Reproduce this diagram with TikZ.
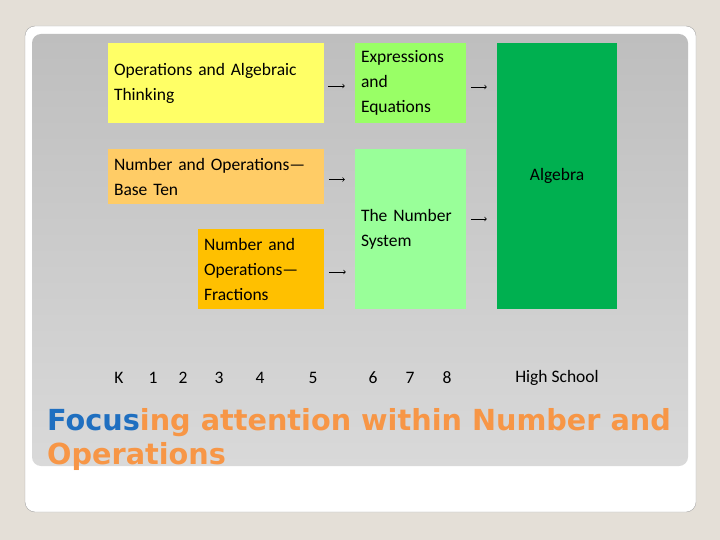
\documentclass[tikz,border=0pt]{standalone}
\usepackage{fontspec}
\setmainfont{Carlito}
\newfontfamily\titlefont[FakeStretch=0.99]{DejaVu Sans Bold}
\usepackage{xcolor}
\usetikzlibrary{arrows,positioning}

\definecolor{canvas}{HTML}{E4DFD7}
\definecolor{panelTop}{HTML}{BEBEBE}
\definecolor{panelBot}{HTML}{D9D9D9}
\definecolor{algYellow}{HTML}{FFFF66}
\definecolor{exprGreen}{HTML}{99FF66}
\definecolor{nsGreen}{HTML}{99FF99}
\definecolor{hsGreen}{HTML}{00B050}
\definecolor{tenOrange}{HTML}{FFCC66}
\definecolor{fracOrange}{HTML}{FFC000}
\definecolor{focusBlue}{HTML}{1F6FC0}
\definecolor{focusOrange}{HTML}{F79646}

\begin{document}
\begin{tikzpicture}[
        x=1pt, y=-1pt,
        % Define styles for the boxes
        box/.style={
            rectangle,
            inner xsep=6pt,
            inner ysep=0pt,
            align=left,
            font=\fontsize{17.5}{25}\selectfont
        },
        grade/.style={
            font=\fontsize{17.5}{20}\selectfont
        },
        arrow/.style={
            ->,
            >=to,
            line width=0.7pt
        }
    ]

    % Background and frame
    \fill[canvas] (0,0) rectangle (720,540);
    \useasboundingbox (0,0) rectangle (720,540);
    \draw[gray!70, fill=white, rounded corners=10pt] (25,26) rectangle (696,512);
    \shade[top color=panelTop, bottom color=panelBot, rounded corners=9pt]
        (32,34) rectangle (688,466);

    % Place the strands
    \node[box, fill=algYellow, text width=204pt, minimum height=80pt] (oat) at (216,83)
        {Operations and Algebraic\\Thinking};
    \node[box, fill=exprGreen, text width=99pt, minimum height=80pt] (ee) at (410.5,83)
        {Expressions\\and\\Equations};
    \node[box, fill=tenOrange, text width=204pt, minimum height=55pt] (nbt) at (216,176.5)
        {Number and Operations---\\Base Ten};
    \node[box, fill=nsGreen, text width=99pt, minimum height=160pt] (ns) at (410.5,229)
        {The Number\\System};
    \node[box, fill=fracOrange, text width=114pt, minimum height=80pt] (nf) at (261,269)
        {Number and\\Operations---\\Fractions};
    \node[box, fill=hsGreen, align=center, minimum width=120pt, minimum height=266pt] (alg) at (557,176)
        {Algebra};

    % Draw the arrows between strands
    \draw[arrow, shorten <=4pt, shorten >=10pt] ([yshift=-3pt]oat.east) -- ([yshift=-3pt]ee.west);
    \draw[arrow, shorten <=5pt, shorten >=10pt] ([yshift=-4pt]ee.east) -- ([yshift=-4pt]ee.east -| alg.west);
    \draw[arrow, shorten <=5pt, shorten >=10pt] ([yshift=-3pt]nbt.east) -- ([yshift=-3pt]nbt.east -| ns.west);
    \draw[arrow, shorten <=5pt, shorten >=10pt] ([yshift=10pt]ns.east) -- ([yshift=10pt]ns.east -| alg.west);
    \draw[arrow, shorten <=5pt, shorten >=9pt] ([yshift=-3pt]nf.east) -- ([yshift=-3pt]nf.east -| ns.west);

    % Grade labels
    \foreach \x/\g [count=\i] in {119/K,153/1,183/2,219/3,260/4,313/5,373/6,410/7,447/8} {
        \node[grade] (g\i) at (\x,378) {\g};
    }
    \node[grade] (hs) at (557,378) {High School};

    % Title
    \node[anchor=base west, inner sep=0pt, align=left,
          font=\titlefont\fontsize{29}{34}\selectfont, text=focusOrange] (title) at (47,464)
        {\textcolor{focusBlue}{Focus}ing attention within Number and\\Operations};

\end{tikzpicture}
\end{document}
